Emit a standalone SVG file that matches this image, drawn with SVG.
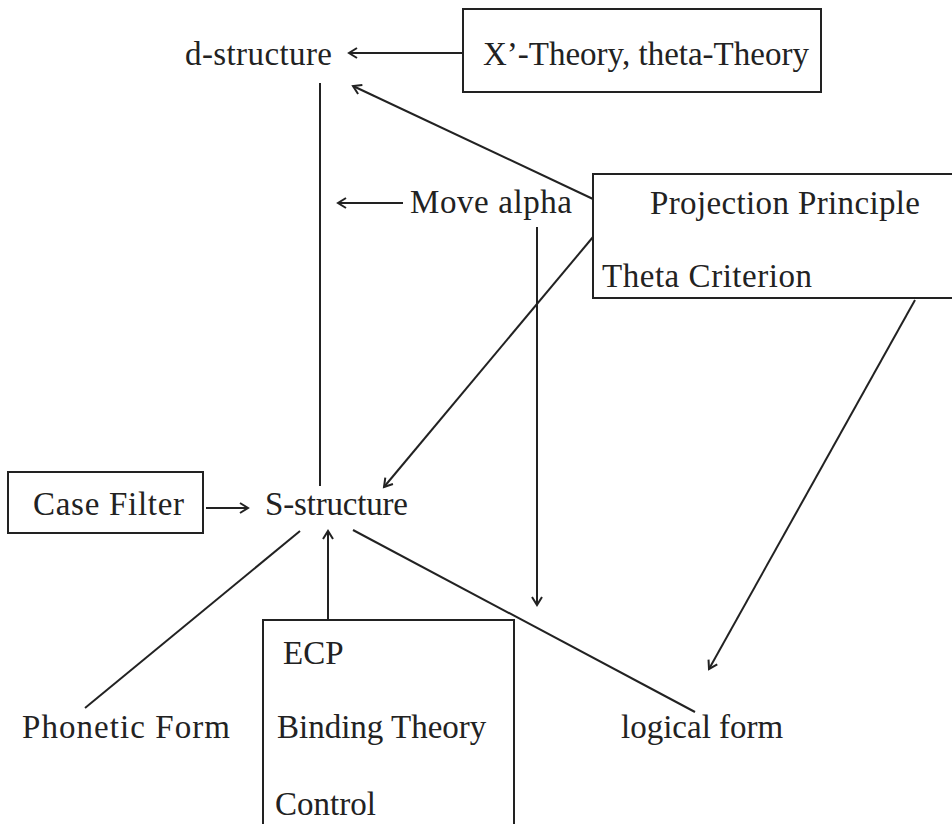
<svg xmlns="http://www.w3.org/2000/svg" width="952" height="824" viewBox="0 0 952 824">
<style>
text{font-family:"Liberation Serif","Times New Roman",serif;font-size:33px;fill:#222;}
.box{fill:none;stroke:#222;stroke-width:2;}
.ln{fill:none;stroke:#222;stroke-width:2;}
.arr{marker-end:url(#ah);}
</style>
<defs>
<marker id="ah" markerUnits="userSpaceOnUse" markerWidth="14" markerHeight="14" refX="10" refY="6" viewBox="0 0 14 12" orient="auto">
<path d="M2,1 L10,6 L2,11" fill="none" stroke="#222" stroke-width="2"/>
</marker>
</defs>
<rect width="952" height="824" fill="#fff"/>
<g id="connectors">
<line class="ln arr" x1="463" y1="53" x2="349" y2="53"/>
<line class="ln arr" x1="593" y1="199" x2="353" y2="86"/>
<line class="ln" x1="320" y1="83" x2="320" y2="486"/>
<line class="ln arr" x1="403" y1="203" x2="338" y2="203"/>
<line class="ln arr" x1="537" y1="227" x2="537" y2="605"/>
<line class="ln arr" x1="593" y1="237" x2="384" y2="487"/>
<line class="ln arr" x1="915" y1="300" x2="709" y2="669"/>
<line class="ln arr" x1="206" y1="508" x2="248" y2="508"/>
<line class="ln" x1="300" y1="531" x2="85" y2="708"/>
<line class="ln arr" x1="328" y1="620" x2="328" y2="531"/>
<line class="ln" x1="353" y1="530" x2="695" y2="712"/>
</g>
<g id="d-structure"><text x="185" y="65" textLength="147" lengthAdjust="spacing">d-structure</text></g>
<g id="xbar"><rect class="box" x="463" y="9" width="358" height="83"/><text x="483" y="65">X’-Theory, theta-Theory</text></g>
<g id="move-alpha"><text x="410" y="213" textLength="162" lengthAdjust="spacing">Move alpha</text></g>
<g id="projection"><rect class="box" x="593" y="174" width="380" height="124"/><text x="650" y="214" textLength="270" lengthAdjust="spacing">Projection Principle</text><text x="602" y="287" textLength="210" lengthAdjust="spacing">Theta Criterion</text></g>
<g id="case-filter"><rect class="box" x="8" y="472" width="195" height="61"/><text x="33" y="515" textLength="151" lengthAdjust="spacing">Case Filter</text></g>
<g id="s-structure"><text x="265" y="515" textLength="143" lengthAdjust="spacing">S-structure</text></g>
<g id="phonetic"><text x="22" y="738" textLength="208" lengthAdjust="spacing">Phonetic Form</text></g>
<g id="logical"><text x="621" y="738">logical form</text></g>
<g id="ecp"><rect class="box" x="263" y="620" width="251" height="215"/><text x="283" y="664">ECP</text><text x="277" y="738">Binding Theory</text><text x="275" y="815">Control</text></g>
</svg>
